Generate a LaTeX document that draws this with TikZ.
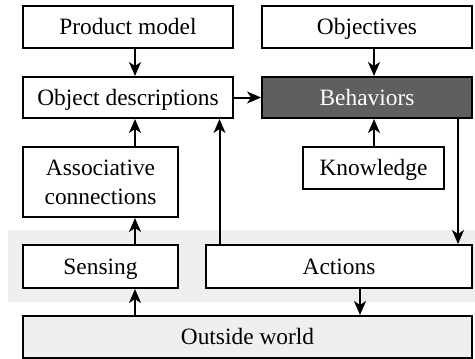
\documentclass[tikz,border=0pt]{standalone}
\usepackage{fontspec}
\setmainfont{Liberation Serif}
\newfontfamily\diagfont{Liberation Serif}
\usetikzlibrary{arrows.meta}

\definecolor{bandgray}{HTML}{EFEFEF}
\definecolor{behgray}{HTML}{5F5F5F}

\newcommand{\pxscl}{0.5}
\newcommand{\wb}{\node[draw, line width=1pt, fill=white, inner sep=0pt, align=center]}
\newcommand{\gb}{\node[draw, line width=1pt, fill=bandgray, inner sep=0pt, align=center]}
\newcommand{\db}{\node[draw, line width=1pt, fill=behgray, text=white, inner sep=0pt, align=center]}

\tikzset{
    arr/.style={line width=1pt, -{Stealth[length=7pt, width=6pt, inset=2pt]}},
    oneline/.style={text height=7.8pt, text depth=0.3pt}
}

\begin{document}
\begin{tikzpicture}[x=\pxscl pt, y=-\pxscl pt, font=\diagfont\fontsize{11.7}{14.5}\selectfont]
            \useasboundingbox (0,0) rectangle (475,358);

            % band behind sensing and actions
            \fill[bandgray] (8,230) rectangle (475,302);

            \wb (prod) at (128,27) [oneline, minimum width=105pt, minimum height=21pt] {Product model};
            \wb (obj) at (128,97.5) [oneline, minimum width=105pt, minimum height=20.5pt] {Object descriptions};
            \wb (assoc) at (100.5,182) [minimum width=77.5pt, minimum height=35pt] {Associative\\connections};
            \wb (sens) at (100.5,266.5) [oneline, minimum width=77.5pt, minimum height=21.5pt] {Sensing};
            \wb (objv) at (367,27) [oneline, minimum width=105pt, minimum height=21pt] {Objectives};
            \db (beh) at (367,97.5) [oneline, minimum width=105pt, minimum height=20.5pt] {Behaviors};
            \wb (know) at (373.5,168) [oneline, minimum width=70.5pt, minimum height=21pt] {Knowledge};
            \wb (act) at (339,266.5) [oneline, minimum width=133pt, minimum height=21.5pt] {Actions};
            \gb (world) at (247.5,337) [oneline, minimum width=224.5pt, minimum height=21pt] {Outside world};

            \coordinate (lcol) at (135,0);
            \coordinate (rcol) at (374,0);
            \coordinate (back) at (219.5,0);
            \coordinate (fwd) at (458,0);
            \coordinate (out) at (360,0);

            \draw[arr]
                (prod.south -| lcol) -- (obj.north -| lcol);
            \draw[arr]
                (assoc.north -| lcol) -- (obj.south -| lcol);
            \draw[arr]
                (sens.north -| lcol) -- (assoc.south -| lcol);
            \draw[arr]
                (world.north -| lcol) -- (sens.south -| lcol);
            \draw[arr]
                (obj.east) -- (beh.west);
            \draw[arr]
                (objv.south -| rcol) -- (beh.north -| rcol);
            \draw[arr]
                (know.north -| rcol) -- (beh.south -| rcol);
            \draw[arr]
                (beh.south -| fwd) -- (act.north -| fwd);
            \draw[arr]
                (act.north -| back) -- (obj.south -| back);
            \draw[arr]
                (act.south -| out) -- (world.north -| out);
        \end{tikzpicture}
\end{document}
